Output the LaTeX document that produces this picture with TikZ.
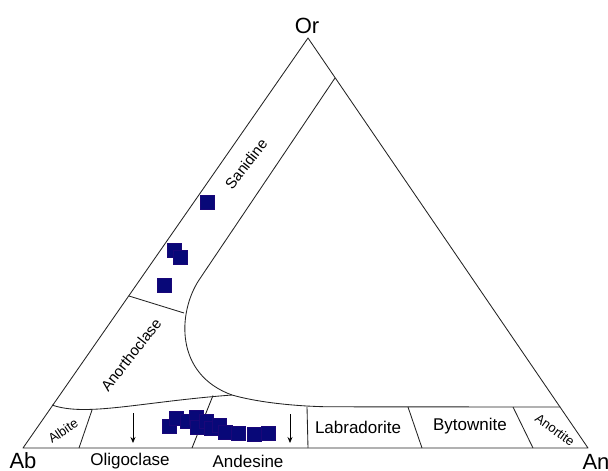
\documentclass[tikz,border=0pt]{standalone}
\usepackage{fontspec}
\setmainfont{Liberation Sans}
\usetikzlibrary{arrows.meta}
\definecolor{ink}{RGB}{35,35,35}
\definecolor{dotc}{RGB}{8,8,120}
\begin{document}
\begin{tikzpicture}[x=1pt,y=-1pt,
  bline/.style={draw=ink,line width=0.85pt,line join=round},
  lab/.style={font=\fontsize{17}{17}\selectfont,inner sep=0pt,text=black},
  tilted/.style={font=\fontsize{15}{15}\selectfont,inner sep=0pt,text=black},
  tiny/.style={font=\fontsize{13}{13}\selectfont,inner sep=0pt,text=black},
  vert/.style={font=\fontsize{22}{22}\selectfont,inner sep=0pt,text=black},
  sq/.style={fill=dotc,draw=dotc!85!violet,line width=0.4pt,minimum size=14pt,inner sep=0pt},
  arr/.style={draw=black,line width=0.8pt,-{Stealth[length=6pt,width=5pt]}}]
\useasboundingbox (0,0) rectangle (608,471);
% vertices
\coordinate (Or) at (308,38);
\coordinate (Ab) at (23,448);
\coordinate (An) at (588,448);
% triangle
\draw[bline] (Ab) -- (Or) -- (An) -- cycle;
% main boundary (sanidine strip and miscibility gap)
\coordinate (sTop) at (335,78);
\coordinate (sBend) at (199,280);
\coordinate (gJoin) at (232,395);
\coordinate (gRight) at (560,407);
\draw[bline] (sTop) -- (sBend) .. controls (178,312) and (174,374) .. (gJoin)
  .. controls (260,403) and (300,406.5) .. (330,406.8) -- (gRight);
% left plagioclase boundary
\coordinate (pLeft) at (52,405);
\draw[bline] (pLeft) .. controls (86,417) and (140,402) .. (gJoin);
% anorthoclase / sanidine divider
\coordinate (dA) at (129,296);
\coordinate (dB) at (184,313);
\draw[bline] (dA) -- (dB);
% plagioclase dividers
\coordinate (p1t) at (92,410); \coordinate (p1b) at (79,448);
\coordinate (p2t) at (213,395.5); \coordinate (p2b) at (192,448);
\coordinate (p3t) at (307,406.5); \coordinate (p3b) at (308,448);
\coordinate (p4t) at (408,407); \coordinate (p4b) at (422,448);
\coordinate (p5t) at (513,407); \coordinate (p5b) at (533,448);
\draw[bline] (p1t) -- (p1b);
\draw[bline] (p2t) -- (p2b);
\draw[bline] (p3t) -- (p3b);
\draw[bline] (p4t) -- (p4b);
\draw[bline] (p5t) -- (p5b);
% arrows
\coordinate (a1s) at (133,413); \coordinate (a1e) at (133,443);
\coordinate (a2s) at (290,414); \coordinate (a2e) at (290,443);
\draw[arr] (a1s) -- (a1e);
\draw[arr] (a2s) -- (a2e);
% vertex labels
\node[vert] (lOr) at (307,26) {Or};
\node[vert] (lAb) at (23,461) {Ab};
\node[vert] (lAn) at (596,462) {An};
% field labels
\node[tilted,rotate=52] (lSan) at (246,164) {Sanidine};
\node[tilted,rotate=52] (lAnc) at (131,355) {Anorthoclase};
\node[tiny,rotate=34] (lAlb) at (63,431) {Albite};
\node[tiny,rotate=-36] (lAnt) at (555,430) {Anortite};
\node[lab] (lOli) at (130,461) {Oligoclase};
\node[lab] (lAnd) at (248,461) {Andesine};
\node[lab] (lLab) at (358,427) {Labradorite};
\node[lab] (lByt) at (470,426) {Bytownite};
% data points
\node[sq] (s1) at (207,202) {};
\node[sq] (s2) at (174,250) {};
\node[sq] (s3) at (180,257) {};
\node[sq] (s4) at (164,285) {};
\node[sq] (b1) at (169,426) {};
\node[sq] (b2) at (176,418) {};
\node[sq] (b3) at (187,421) {};
\node[sq] (b4) at (196,417) {};
\node[sq] (b5) at (197,427) {};
\node[sq] (b6) at (206,421) {};
\node[sq] (b7) at (211,428) {};
\node[sq] (b8) at (219,425) {};
\node[sq] (b9) at (225,432) {};
\node[sq] (b10) at (238,433) {};
\node[sq] (b11) at (254,434) {};
\node[sq] (b12) at (268,433) {};
\end{tikzpicture}
\end{document}
